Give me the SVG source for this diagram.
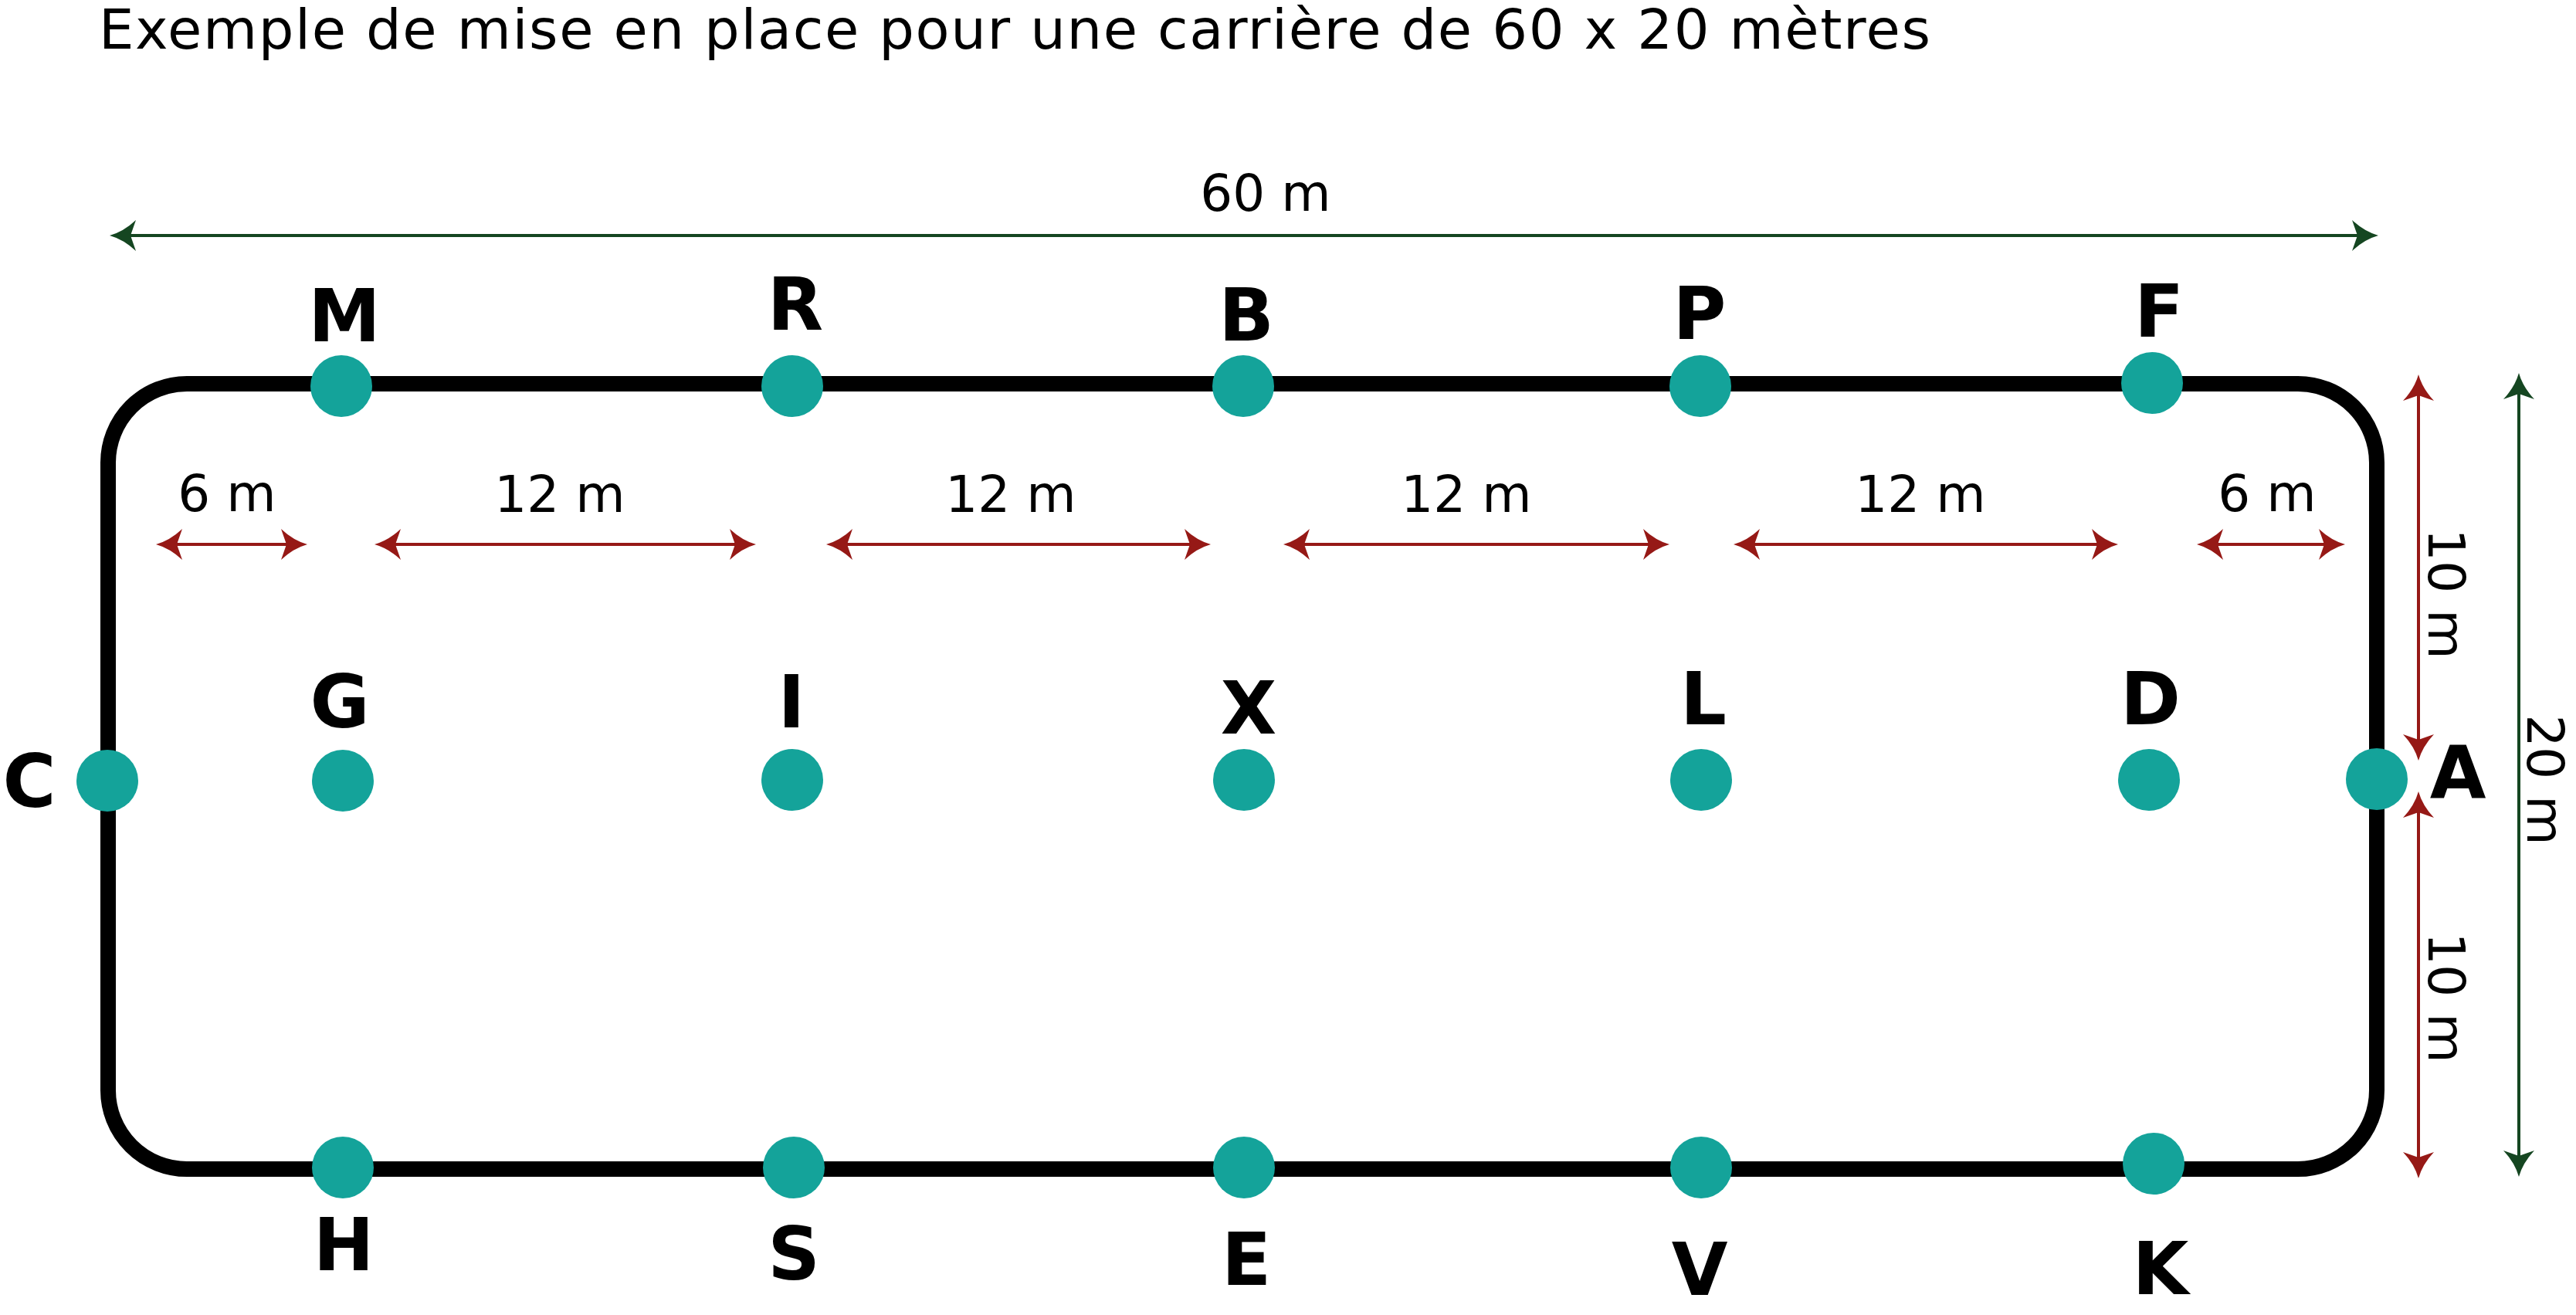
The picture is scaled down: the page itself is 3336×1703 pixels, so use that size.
<svg xmlns="http://www.w3.org/2000/svg" width="3336" height="1703" viewBox="0 0 3336 1703">
<style>
.bg{fill:#ffffff}
.track{fill:none;stroke:#000000;stroke-width:20}
.dot{fill:#14a39a}
.lbl{font-family:"DejaVu Sans","Liberation Sans",sans-serif;font-weight:bold;font-size:94px;fill:#000000;text-anchor:middle}
.dim{font-family:"DejaVu Sans","Liberation Sans",sans-serif;font-size:66px;fill:#000000;text-anchor:middle}
.title{font-family:"DejaVu Sans","Liberation Sans",sans-serif;font-size:72px;fill:#000000}
.red{stroke:#961916;stroke-width:4;fill:none;marker-start:url(#ar);marker-end:url(#ar)}
.green{stroke:#154621;stroke-width:4;fill:none;marker-start:url(#ag);marker-end:url(#ag)}
</style>
<defs>
<marker id="ar" viewBox="-36 -22 40 44" refX="-26" refY="0" markerWidth="40" markerHeight="44" markerUnits="userSpaceOnUse" orient="auto-start-reverse">
<path d="M0,0 Q-18,-5 -34,-20 L-27,0 L-34,20 Q-18,5 0,0Z" fill="#961916"/>
</marker>
<marker id="ag" viewBox="-36 -22 40 44" refX="-26" refY="0" markerWidth="40" markerHeight="44" markerUnits="userSpaceOnUse" orient="auto-start-reverse">
<path d="M0,0 Q-18,-5 -34,-20 L-27,0 L-34,20 Q-18,5 0,0Z" fill="#154621"/>
</marker>
</defs>
<rect class="bg" x="0" y="0" width="3336" height="1703"/>
<text class="title" x="128" y="63" textLength="2372" lengthAdjust="spacing">Exemple de mise en place pour une carrière de 60 x 20 mètres</text>

<rect id="track" class="track" x="140" y="497" width="2938" height="1017" rx="102" ry="102"/>

<g id="connectors">
<line class="green" x1="168" y1="305" x2="3054" y2="305"/>
<line class="green" x1="3262" y1="509" x2="3262" y2="1498"/>
<line class="red" x1="3132" y1="511" x2="3132" y2="959"/>
<line class="red" x1="3132" y1="1051" x2="3132" y2="1500"/>
<line class="red" x1="228" y1="705" x2="372" y2="705"/>
<line class="red" x1="511" y1="705" x2="953" y2="705"/>
<line class="red" x1="1096" y1="705" x2="1542" y2="705"/>
<line class="red" x1="1688" y1="705" x2="2136" y2="705"/>
<line class="red" x1="2271" y1="705" x2="2717" y2="705"/>
<line class="red" x1="2871" y1="705" x2="3011" y2="705"/>
</g>

<g id="dimensions">
<text class="dim" x="1639" y="273">60 m</text>
<text class="dim" x="294" y="662">6 m</text>
<text class="dim" x="725" y="663">12 m</text>
<text class="dim" x="1309" y="663">12 m</text>
<text class="dim" x="1899" y="663">12 m</text>
<text class="dim" x="2487" y="663">12 m</text>
<text class="dim" x="2936" y="662">6 m</text>
<text class="dim" transform="translate(3145,769) rotate(90)" x="0" y="0">10 m</text>
<text class="dim" transform="translate(3145,1292) rotate(90)" x="0" y="0">10 m</text>
<text class="dim" transform="translate(3273,1010) rotate(90)" x="0" y="0">20 m</text>
</g>

<g id="node-M"><circle class="dot" cx="442" cy="500" r="40"/><text class="lbl" x="446" y="442">M</text></g>
<g id="node-R"><circle class="dot" cx="1026" cy="500" r="40"/><text class="lbl" x="1030" y="427">R</text></g>
<g id="node-B"><circle class="dot" cx="1610" cy="500" r="40"/><text class="lbl" x="1614" y="441">B</text></g>
<g id="node-P"><circle class="dot" cx="2202" cy="500" r="40"/><text class="lbl" x="2201" y="439">P</text></g>
<g id="node-F"><circle class="dot" cx="2787" cy="496" r="40"/><text class="lbl" x="2796" y="436">F</text></g>

<g id="node-C"><circle class="dot" cx="139" cy="1011" r="40"/><text class="lbl" x="38" y="1045">C</text></g>
<g id="node-G"><circle class="dot" cx="444" cy="1011" r="40"/><text class="lbl" x="440" y="942">G</text></g>
<g id="node-I"><circle class="dot" cx="1026" cy="1010" r="40"/><text class="lbl" x="1025" y="942">I</text></g>
<g id="node-X"><circle class="dot" cx="1611" cy="1010" r="40"/><text class="lbl" x="1617" y="950">X</text></g>
<g id="node-L"><circle class="dot" cx="2203" cy="1010" r="40"/><text class="lbl" x="2206" y="938">L</text></g>
<g id="node-D"><circle class="dot" cx="2783" cy="1010" r="40"/><text class="lbl" x="2785" y="938">D</text></g>
<g id="node-A"><circle class="dot" cx="3078" cy="1009" r="40"/><text class="lbl" x="3183" y="1034">A</text></g>

<g id="node-H"><circle class="dot" cx="444" cy="1512" r="40"/><text class="lbl" x="445" y="1645">H</text></g>
<g id="node-S"><circle class="dot" cx="1028" cy="1512" r="40"/><text class="lbl" x="1028" y="1657">S</text></g>
<g id="node-E"><circle class="dot" cx="1611" cy="1512" r="40"/><text class="lbl" x="1614" y="1664">E</text></g>
<g id="node-V"><circle class="dot" cx="2203" cy="1512" r="40"/><text class="lbl" x="2201" y="1677">V</text></g>
<g id="node-K"><circle class="dot" cx="2789" cy="1507" r="40"/><text class="lbl" x="2798" y="1676">K</text></g>
</svg>
